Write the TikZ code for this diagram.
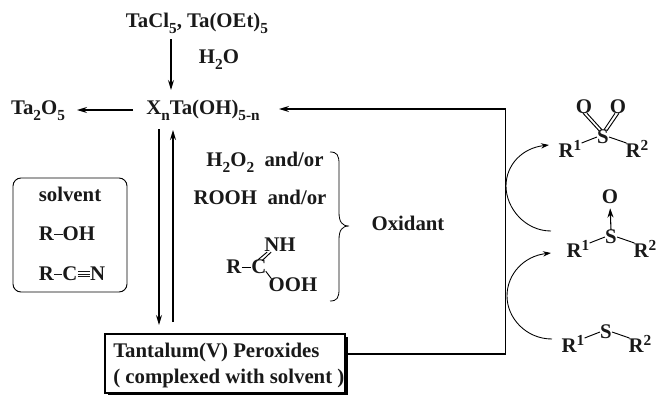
\documentclass[tikz,border=0pt]{standalone}
\usepackage{fontspec}
\setmainfont{Liberation Serif}
\usetikzlibrary{arrows.meta,calc}
\tikzset{
 chem/.style={font=\bfseries\fontsize{15.6}{18}\selectfont,inner sep=0pt,text=black!90},
 small/.style={chem},
 arr/.style={line width=0.95pt,-{Stealth[length=7.5pt,width=4.5pt]}},
 bond/.style={line width=0.7pt},
 curve/.style={line width=0.65pt},
 curvearr/.style={curve,-{Stealth[length=6pt,width=4pt]}}
}
\newcommand{\sbs}[1]{\raisebox{-0.28em}{\fontsize{11.5}{12}\selectfont #1}}
\newcommand{\sps}[1]{\raisebox{0.36em}{\fontsize{11.5}{12}\selectfont #1}}
\newcommand{\sbond}{\raisebox{0.3em}{\rule{6.5pt}{0.6pt}}}
\begin{document}
\begin{tikzpicture}[x=0.75pt,y=-0.75pt]
\useasboundingbox (0,0) rectangle (657,397);
\node[chem] (src) at (197,23) {TaCl\sbs{5}, Ta(OEt)\sbs{5}};
\node[chem] (water) at (219,60) {H\sbs{2}O};
\node[chem] (x) at (203,110) {X\sbs{n}Ta(OH)\sbs{5-n}};
\node[chem] (oxide) at (38,111) {Ta\sbs{2}O\sbs{5}};
\coordinate (a1) at (171,39); \coordinate (a2) at (171,90);
\draw[arr] (a1) -- (a2);
\coordinate (b1) at (133,110); \coordinate (b2) at (77,110);
\draw[arr] (b1) -- (b2);
\coordinate (d1) at (159,129); \coordinate (d2) at (159,325);
\draw[arr] (d1) -- (d2);
\coordinate (u1) at (173,322); \coordinate (u2) at (173,130);
\draw[arr] (u1) -- (u2);
% product box
\fill[black] (108,337) rectangle (348,395);
\draw[fill=white,line width=0.9pt] (105,334) rectangle (345,393);
\node[chem,anchor=west] (perox) at (113,352) {Tantalum(V) Peroxides};
\node[chem,anchor=west] (perox2) at (113,378) {( complexed with solvent )};
\coordinate (c1) at (348,354); \coordinate (c2) at (505.5,354); \coordinate (c3) at (505.5,109); \coordinate (c4) at (279,109);
\draw[arr] (c1) -- (c2) -- (c3) -- (c4);
% solvent box
\draw[line width=0.7pt,rounded corners=6pt] (13,178) rectangle (127,292);
\node[small] (solv) at (70,194) {solvent};
\node[small] (roh) at (67,234) {R\sbond OH};
\node[small] (rcn) at (72,274) {R\sbond C\tikz[baseline=-0.1em,x=1pt,y=1pt]{\draw[line width=0.5pt] (0,1.6)--(9,1.6) (0,3.4)--(9,3.4) (0,5.2)--(9,5.2);}N};
% oxidants
\node[small] (hp) at (265,162) {H\sbs{2}O\sbs{2}\,\,\,and/or};
\node[small] (rooh) at (260,197) {ROOH\,\,\,and/or};
\node[small] (r) at (234,267) {R};
\node[small] (c) at (259,267) {C};
\node[small] (nh) at (280,245) {NH};
\node[small] (ooh) at (293,285) {OOH};
\draw[bond] (r) -- (c);
\draw[bond] ($(c.north)+(-1,0)$) -- ($(nh.south west)+(3,0)$);
\draw[bond] ($(c.north)+(3,1)$) -- ($(nh.south west)+(7,0)$);
\draw[bond] ($(c.south east)+(-1,-3)$) -- ($(ooh.north west)+(3,1)$);
\coordinate (br1) at (330,152); \coordinate (br2) at (330,301); \coordinate (brtip) at (349,226);
\draw[line width=0.6pt] (br1) .. controls (337,152) and (339,155) .. (339,164) -- (339,212) .. controls (339,222) and (342,226) .. (brtip) .. controls (342,226) and (339,230) .. (339,240) -- (339,289) .. controls (339,298) and (337,301) .. (br2);
\node[chem] (oxid) at (408,223) {Oxidant};
% sulfone
\node[chem] (s1) at (603,137) {S};
\node[chem] (o1) at (584,107) {O};
\node[chem] (o2) at (618,107) {O};
\node[chem] (r11) at (570,149) {R\sps{1}};
\node[chem] (r12) at (637,149) {R\sps{2}};
\draw[bond] ($(s1.north)+(-4,1)$) -- ($(o1.south)+(-1,-1)$);
\draw[bond] ($(s1.north)+(-1,0)$) -- ($(o1.south)+(3,-1)$);
\draw[bond] ($(s1.north)+(1,0)$) -- ($(o2.south)+(-3,-1)$);
\draw[bond] ($(s1.north)+(4,1)$) -- ($(o2.south)+(1,-1)$);
\draw[bond] ($(r11.east)+(0,-6)$) -- (s1.west);
\draw[bond] (s1.east) -- ($(r12.west)+(1,-6)$);
% sulfoxide
\node[chem] (s2) at (611,237) {S};
\node[chem] (o3) at (610,197) {O};
\node[chem] (r21) at (578,249) {R\sps{1}};
\node[chem] (r22) at (645,249) {R\sps{2}};
\draw[line width=0.8pt,-{Stealth[length=7pt,width=4.5pt]},shorten >=3pt] (s2.north) -- (o3.south);
\draw[bond] ($(r21.east)+(0,-6)$) -- (s2.west);
\draw[bond] (s2.east) -- ($(r22.west)+(1,-6)$);
% sulfide
\node[chem] (s3) at (606,332) {S};
\node[chem] (r31) at (573,344) {R\sps{1}};
\node[chem] (r32) at (640,344) {R\sps{2}};
\draw[bond] ($(r31.east)+(0,-6)$) -- (s3.west);
\draw[bond] (s3.east) -- ($(r32.west)+(1,-6)$);
% curved arrows
\coordinate (e1) at (551,231); \coordinate (e2) at (549,145);
\draw[curvearr] (e1) .. controls (525,231) and (506,208) .. (506,186) .. controls (506,165) and (522,148) .. (e2);
\coordinate (f1) at (552,339); \coordinate (f2) at (551,253);
\draw[curvearr] (f1) .. controls (526,339) and (507,318) .. (507,296) .. controls (507,274) and (524,256) .. (f2);
\end{tikzpicture}
\end{document}
